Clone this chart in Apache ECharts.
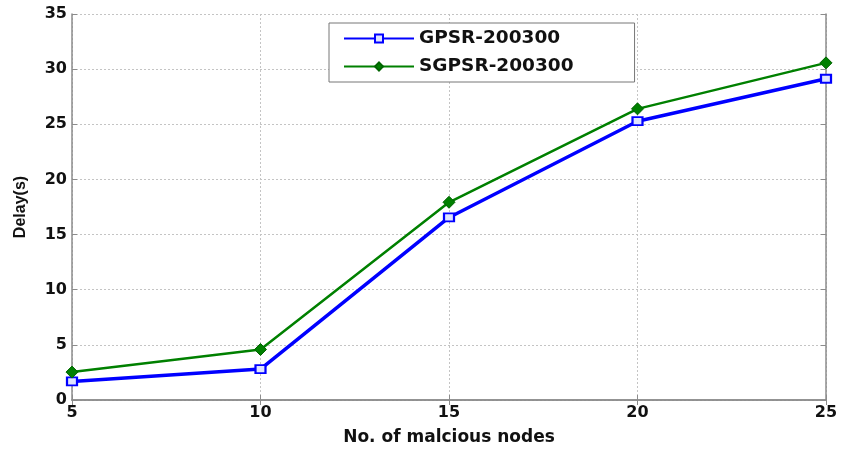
<!DOCTYPE html>
<html>
<head>
<meta charset="utf-8">
<script src="https://cdn.jsdelivr.net/npm/echarts@6/dist/echarts.min.js"></script>
<style>html,body{margin:0;padding:0;background:#fff}#c{width:842px;height:451px}</style>
</head>
<body>
<div id="c"></div>
<script>
const nodes = [5, 10, 15, 20, 25];
const gpsr = [1.68, 2.8, 16.55, 25.28, 29.13];
const sgpsr = [2.53, 4.58, 17.93, 26.4, 30.57];
const seriesNames = ['GPSR-200300', 'SGPSR-200300'];
const xTitle = 'No. of malcious nodes';
const yTitle = 'Delay(s)';

const chart = echarts.init(document.getElementById('c'));
const font = 'DejaVu Sans, sans-serif';
const font2 = 'Liberation Sans, Arial, sans-serif';
const axisGray = '#8c8c8c';
const pair = (xs, ys) => xs.map((x, i) => [x, ys[i]]);
chart.setOption({
  animation: false,
  backgroundColor: '#fff',
  grid: { left: 72, right: 16, top: 14, bottom: 40, containLabel: false },
  legend: {
    left: 329, top: 23, orient: 'vertical',
    padding: [6, 61, 6, 14],
    itemGap: 9,
    itemWidth: 70, itemHeight: 10,
    borderColor: '#777', borderWidth: 1, backgroundColor: '#fff',
    textStyle: { fontFamily: font, fontWeight: 'bold', fontSize: 18.5, color: '#111' },
    data: seriesNames
  },
  xAxis: [{
    type: 'value', min: 5, max: 25, interval: 5,
    name: xTitle, nameLocation: 'middle', nameGap: 29,
    nameTextStyle: { fontFamily: font, fontWeight: 'bold', fontSize: 17, color: '#111' },
    axisLine: { lineStyle: { color: axisGray, width: 1.5 } },
    axisTick: { inside: true, length: 5, lineStyle: { color: axisGray } },
    axisLabel: { fontFamily: font, fontWeight: 'bold', fontSize: 16, color: '#111', margin: 5 },
    splitLine: { show: true, lineStyle: { color: '#c4c4c4', type: [2, 2] } }
  }, {
    type: 'value', min: 5, max: 25, interval: 5, position: 'top',
    axisLine: { show: true, lineStyle: { color: axisGray, width: 1.5 } },
    axisTick: { inside: true, length: 5, lineStyle: { color: axisGray } },
    axisLabel: { show: false }, splitLine: { show: false }
  }],
  yAxis: [{
    type: 'value', min: 0, max: 35, interval: 5,
    name: yTitle, nameLocation: 'middle', nameGap: 43,
    nameTextStyle: { fontFamily: font2, fontWeight: 'bold', fontSize: 16, color: '#111' },
    axisLine: { show: true, lineStyle: { color: axisGray, width: 1.5 } },
    axisTick: { show: true, inside: true, length: 5, lineStyle: { color: axisGray } },
    axisLabel: { fontFamily: font, fontWeight: 'bold', fontSize: 16, color: '#111', margin: 5 },
    splitLine: { show: true, lineStyle: { color: '#c4c4c4', type: [2, 2] } }
  }, {
    type: 'value', min: 0, max: 35, interval: 5, position: 'right',
    axisLine: { show: true, lineStyle: { color: axisGray, width: 1.5 } },
    axisTick: { show: true, inside: true, length: 5, lineStyle: { color: axisGray } },
    axisLabel: { show: false }, splitLine: { show: false }
  }],
  series: [{
    name: seriesNames[0], type: 'line', data: pair(nodes, gpsr),
    color: '#0000ff',
    lineStyle: { color: '#0000ff', width: 3.5 },
    symbol: 'rect', symbolSize: [10, 8],
    itemStyle: { color: '#dfe4ff', borderColor: '#0000ff', borderWidth: 2 },
    z: 3
  }, {
    name: seriesNames[1], type: 'line', data: pair(nodes, sgpsr),
    color: '#008000',
    lineStyle: { color: '#008000', width: 2.5 },
    symbol: 'diamond', symbolSize: 12,
    itemStyle: { color: '#008000', borderColor: '#006400', borderWidth: 1 },
    z: 4
  }]
});
</script>
</body>
</html>
